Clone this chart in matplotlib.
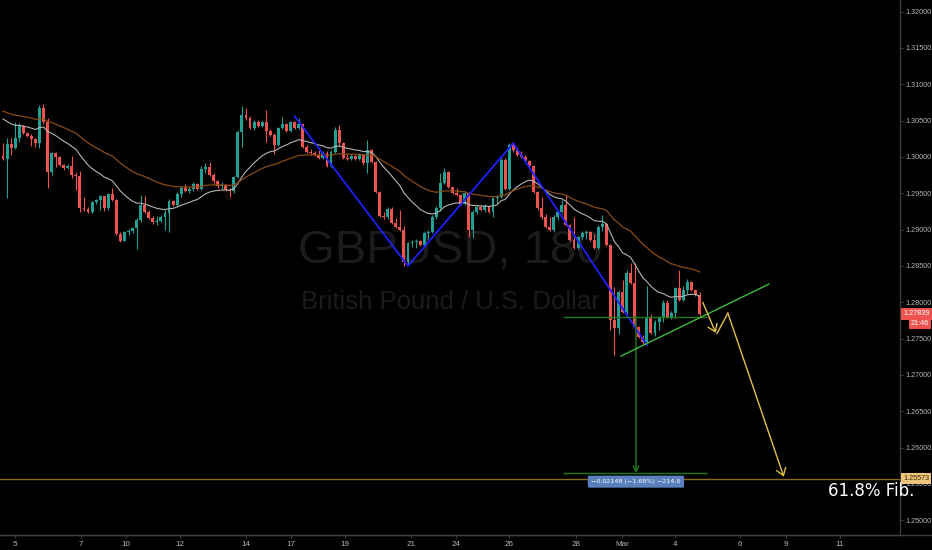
import numpy as np
import matplotlib.pyplot as plt

# GBPUSD 3h candles (open of each bar = previous close)
first_open = 1.3001
closes = [1.2997, 1.3018, 1.3012, 1.3026, 1.3043, 1.3033, 1.3029, 1.3025, 1.3019, 1.3067,
          1.3048, 1.2979, 1.3006, 1.3000, 1.2989, 1.2985, 1.2988, 1.2975, 1.2974, 1.2930,
          1.2928, 1.2924, 1.2938, 1.2941, 1.2946, 1.2930, 1.2949, 1.2941, 1.2894, 1.2884,
          1.2897, 1.2898, 1.2902, 1.2913, 1.2934, 1.2924, 1.2916, 1.2911, 1.2912, 1.2917,
          1.2923, 1.2939, 1.2934, 1.2949, 1.2957, 1.2953, 1.2956, 1.2963, 1.2956, 1.2983,
          1.2986, 1.2975, 1.2967, 1.2960, 1.2961, 1.2955, 1.2953, 1.2972, 1.3034, 1.3058,
          1.3054, 1.3040, 1.3048, 1.3043, 1.3048, 1.3036, 1.3030, 1.3017, 1.3040, 1.3045,
          1.3036, 1.3048, 1.3040, 1.3045, 1.3014, 1.3007, 1.3006, 1.3003, 1.2999, 1.3006,
          1.2988, 1.3007, 1.3037, 1.3019, 1.2999, 1.2997, 1.3001, 1.2997, 1.3003, 1.2992,
          1.3010, 1.2993, 1.2952, 1.2919, 1.2917, 1.2928, 1.2909, 1.2904, 1.2900, 1.2856,
          1.2882, 1.2883, 1.2884, 1.2879, 1.2895, 1.2897, 1.2917, 1.2930, 1.2964, 1.2979,
          1.2959, 1.2950, 1.2948, 1.2935, 1.2950, 1.2900, 1.2924, 1.2931, 1.2927, 1.2933,
          1.2924, 1.2944, 1.2945, 1.2996, 1.2956, 1.3017, 1.3010, 1.3003, 1.3000, 1.2995,
          1.2988, 1.2952, 1.2930, 1.2917, 1.2904, 1.2900, 1.2917, 1.2924, 1.2934, 1.2906,
          1.2886, 1.2875, 1.2890, 1.2895, 1.2897, 1.2886, 1.2875, 1.2904, 1.2908, 1.2879,
          1.2776, 1.2765, 1.2814, 1.2787, 1.2840, 1.2827, 1.2766, 1.2752, 1.2746, 1.2780,
          1.2758, 1.2773, 1.2778, 1.2799, 1.2780, 1.2785, 1.2820, 1.2803, 1.2817, 1.2828,
          1.2817, 1.2810, 1.2784]
highs = [1.3019, 1.3026, 1.3026, 1.3048, 1.3047, 1.3044, 1.3034, 1.3032, 1.3026, 1.3072,
         1.3073, 1.3054, 1.3007, 1.3007, 1.3001, 1.2990, 1.2990, 1.3001, 1.2979, 1.2981,
         1.2945, 1.2931, 1.2939, 1.2942, 1.2948, 1.2946, 1.2950, 1.2957, 1.2942, 1.2897,
         1.2898, 1.2901, 1.2904, 1.2916, 1.2948, 1.2946, 1.2927, 1.2919, 1.2919, 1.2920,
         1.2927, 1.2942, 1.2941, 1.2952, 1.2960, 1.2963, 1.2959, 1.2966, 1.2964, 1.2988,
         1.2992, 1.2993, 1.2978, 1.2968, 1.2966, 1.2963, 1.2957, 1.2974, 1.3037, 1.3070,
         1.3067, 1.3056, 1.3051, 1.3051, 1.3050, 1.3065, 1.3039, 1.3033, 1.3041, 1.3055,
         1.3047, 1.3050, 1.3050, 1.3054, 1.3045, 1.3017, 1.3011, 1.3008, 1.3010, 1.3008,
         1.3008, 1.3010, 1.3041, 1.3044, 1.3020, 1.3004, 1.3004, 1.3003, 1.3005, 1.3003,
         1.3023, 1.3011, 1.2995, 1.2953, 1.2924, 1.2931, 1.2931, 1.2916, 1.2927, 1.2905,
         1.2883, 1.2886, 1.2887, 1.2886, 1.2897, 1.2900, 1.2920, 1.2933, 1.2978, 1.2985,
         1.2981, 1.2959, 1.2957, 1.2949, 1.2952, 1.2952, 1.2927, 1.2934, 1.2934, 1.2935,
         1.2934, 1.2945, 1.2948, 1.2999, 1.2999, 1.3019, 1.3021, 1.3012, 1.3008, 1.3003,
         1.2996, 1.2989, 1.2953, 1.2945, 1.2922, 1.2917, 1.2920, 1.2927, 1.2941, 1.2948,
         1.2908, 1.2917, 1.2891, 1.2898, 1.2900, 1.2898, 1.2894, 1.2906, 1.2920, 1.2909,
         1.2880, 1.2821, 1.2817, 1.2831, 1.2845, 1.2854, 1.2854, 1.2768, 1.2755, 1.2823,
         1.2784, 1.2776, 1.2781, 1.2803, 1.2803, 1.2788, 1.2821, 1.2845, 1.2823, 1.2832,
         1.2829, 1.2818, 1.2814]
lows = [1.2996, 1.2944, 1.3003, 1.3011, 1.3021, 1.3032, 1.3028, 1.3015, 1.3014, 1.3012,
        1.3045, 1.2957, 1.2975, 1.2986, 1.2988, 1.2982, 1.2984, 1.2971, 1.2955, 1.2924,
        1.2926, 1.2923, 1.2923, 1.2935, 1.2927, 1.2926, 1.2927, 1.2939, 1.2893, 1.2883,
        1.2884, 1.2893, 1.2895, 1.2873, 1.2911, 1.2923, 1.2915, 1.2908, 1.2906, 1.2911,
        1.2900, 1.2897, 1.2933, 1.2933, 1.2945, 1.2952, 1.2950, 1.2953, 1.2955, 1.2955,
        1.2978, 1.2974, 1.2964, 1.2957, 1.2956, 1.2953, 1.2945, 1.2950, 1.2971, 1.3014,
        1.3051, 1.3039, 1.3037, 1.3041, 1.3041, 1.3021, 1.3029, 1.3004, 1.3015, 1.3039,
        1.3034, 1.3034, 1.3039, 1.3039, 1.3012, 1.3006, 1.3003, 1.3001, 1.2997, 1.2997,
        1.2986, 1.2986, 1.3006, 1.3015, 1.2997, 1.2996, 1.2996, 1.2996, 1.2996, 1.2989,
        1.2978, 1.2992, 1.2950, 1.2917, 1.2915, 1.2915, 1.2908, 1.2902, 1.2898, 1.2850,
        1.2852, 1.2876, 1.2875, 1.2878, 1.2878, 1.2887, 1.2895, 1.2915, 1.2926, 1.2963,
        1.2957, 1.2949, 1.2946, 1.2934, 1.2934, 1.2890, 1.2889, 1.2922, 1.2926, 1.2924,
        1.2923, 1.2917, 1.2937, 1.2944, 1.2955, 1.2955, 1.3007, 1.3001, 1.2999, 1.2993,
        1.2986, 1.2950, 1.2927, 1.2915, 1.2902, 1.2898, 1.2897, 1.2913, 1.2923, 1.2905,
        1.2884, 1.2873, 1.2873, 1.2887, 1.2887, 1.2884, 1.2873, 1.2873, 1.2898, 1.2878,
        1.2762, 1.2728, 1.2757, 1.2785, 1.2784, 1.2825, 1.2765, 1.2751, 1.2741, 1.2744,
        1.2757, 1.2754, 1.2762, 1.2773, 1.2778, 1.2777, 1.2778, 1.2802, 1.2802, 1.2811,
        1.2816, 1.2809, 1.2781]

# moving averages: starting values at the left edge + periods
ma_fast_start, ma_fast_len = 1.3058, 20
ma_slow_start, ma_slow_len = 1.3066, 45

# date axis
day_labels = ["5", "7", "10", "12", "14", "17", "19", "21", "24", "26", "28", "Mar", "4", "6", "9", "11"]
day_bars = [3.0, 19.3, 30.4, 43.7, 60.0, 71.1, 84.4, 100.7, 111.9, 124.9, 141.5, 152.8, 165.9, 182.0, 193.3, 206.7]
price_ticks = [1.25, 1.255, 1.26, 1.265, 1.27, 1.275, 1.28, 1.285, 1.29, 1.295,
               1.30, 1.305, 1.31, 1.315, 1.32]

# drawings on the chart
zigzag_bars = [72, 100, 126, 159]
zigzag_prices = [1.3056, 1.2850, 1.3019, 1.2741]
trend_bars = [152.6, 189.1]
trend_prices = [1.2726, 1.2825]
measure_top, measure_change = 1.2780, -0.02148
measure_bars = [138.3, 173.8]
measure_mid_bar = 156.3
measure_text = "\u22120.02148 (\u22121.68%) \u2212214.8"
fib_price = 1.25573
arrow1_bars, arrow1_prices = [172.8, 176.0], [1.2800, 1.2758]
arrow2_bars, arrow2_prices = [176.3, 179.0, 192.8], [1.2757, 1.2785, 1.2560]
last_price_label, countdown = "1.27839", "21:46"

UP, DOWN = "#22a094", "#ef5350"
AXIS_FONT = "Liberation Sans"

fig = plt.figure(figsize=(9.32, 5.5), dpi=100, facecolor="black")
ax = fig.add_axes([0, 15 / 550, 900 / 932, 535 / 550])
ax.set_facecolor("black")

# watermark
ax.text(0.5, 1 - 251 / 535, "GBPUSD, 180", transform=ax.transAxes, ha="center", va="center",
        fontsize=34, color="#1b1b1b", family="Liberation Sans", zorder=0)
ax.text(0.5, 1 - 302 / 535, "British Pound / U.S. Dollar", transform=ax.transAxes, ha="center",
        va="center", fontsize=18.5, color="#1b1b1b", family="Liberation Sans", zorder=0)

# candles
c = np.array(closes)
o = np.concatenate([[first_open], c[:-1]])
x = np.arange(len(c))
col = np.where(c >= o, UP, DOWN)
ax.vlines(x, lows, highs, colors=col, linewidth=0.8, zorder=2)
ax.bar(x, np.maximum(np.abs(c - o), 0.00009), bottom=np.minimum(o, c), width=0.72,
       color=col, linewidth=0, zorder=3)

# moving averages
def ema(values, start, n):
    a = 2 / (n + 1)
    out, e = [], start
    for v in values:
        e = e + a * (v - e)
        out.append(e)
    return out

ax.plot(x, ema(c, ma_fast_start, ma_fast_len), color="#b4b4b4", lw=0.8, zorder=4)
ax.plot(x, ema(c, ma_slow_start, ma_slow_len), color="#8a4a14", lw=0.9, zorder=4)

# zigzag
ax.plot(zigzag_bars, zigzag_prices, color="#1f1fff", lw=1.3, zorder=5)

# price range tool
measure_bottom = measure_top + measure_change
ax.hlines([measure_top, measure_bottom], measure_bars[0], measure_bars[1], color="#1d7a1d", lw=1.0, zorder=5)
ax.annotate("", xy=(measure_mid_bar, measure_bottom), xytext=(measure_mid_bar, measure_top),
            arrowprops=dict(arrowstyle="->", color="#1d7a1d", lw=1.0, shrinkA=0, shrinkB=0), zorder=5)
ax.text(measure_mid_bar, measure_bottom - 0.0012, measure_text, ha="center", va="center",
        fontsize=4.6, color="white",
        bbox=dict(boxstyle="round,pad=0.55,rounding_size=0.25", fc="#5a80be", ec="none"), zorder=6)

# trendline
ax.plot(trend_bars, trend_prices, color="#3dbb3d", lw=1.0, zorder=5)

# fib level
ax.axhline(fib_price, color="#8a6a1c", lw=1.0, zorder=1)
ax.text(871 / 900, fib_price - 0.00165, "61.8% Fib.", transform=ax.get_yaxis_transform(),
        ha="center", va="center", fontsize=12, color="white")

# projection arrows
ax.annotate("", xy=(arrow1_bars[1], arrow1_prices[1]), xytext=(arrow1_bars[0], arrow1_prices[0]),
            arrowprops=dict(arrowstyle="->,head_length=0.5,head_width=0.35", color="#e2c04a", lw=1.0,
                            shrinkA=0, shrinkB=0), zorder=6)
ax.plot(arrow2_bars[:2], arrow2_prices[:2], color="#e2c04a", lw=1.0, zorder=6)
ax.annotate("", xy=(arrow2_bars[2], arrow2_prices[2]), xytext=(arrow2_bars[1], arrow2_prices[1]),
            arrowprops=dict(arrowstyle="->,head_length=0.5,head_width=0.35", color="#e2c04a", lw=1.0,
                            shrinkA=0, shrinkB=0), zorder=6)

# axes
ax.set_xlim(-0.74, 221.5)
ax.set_ylim(1.24798, 1.3216)
for s in ["top", "left"]:
    ax.spines[s].set_visible(False)
for s in ["right", "bottom"]:
    ax.spines[s].set_color("#3c3c3c")
    ax.spines[s].set_linewidth(1.0)
ax.yaxis.tick_right()
ax.set_yticks(price_ticks)
ax.set_yticklabels([f"{p:.5f}" for p in price_ticks], family=AXIS_FONT)
ax.set_xticks(day_bars)
ax.set_xticklabels(day_labels, family=AXIS_FONT)
ax.tick_params(axis="y", colors="#3c3c3c", labelcolor="#b2b5be", labelsize=5.2, length=2.5, pad=1.2)
ax.tick_params(axis="x", colors="#3c3c3c", labelcolor="#b2b5be", labelsize=5.8, length=2.5, pad=2)
fig.add_artist(plt.Line2D([0, 1], [15 / 550, 15 / 550], color="#3c3c3c", lw=1.0))

# right-axis price tags
ytr = ax.get_yaxis_transform()
tag = dict(transform=ytr, va="center", fontsize=5.2, family=AXIS_FONT, clip_on=False, zorder=7)
ax.text(1.0035, c[-1], last_price_label, ha="left", color="white",
        bbox=dict(boxstyle="square,pad=0.3", fc="#ef5350", ec="none"), **tag)
ax.text(1.0325, c[-1] - 0.00135, countdown, ha="right", color="white",
        bbox=dict(boxstyle="square,pad=0.3", fc="#ef5350", ec="none"), **tag)
ax.text(1.0035, fib_price, f"{fib_price:.5f}", ha="left", color="#3a2a00",
        bbox=dict(boxstyle="square,pad=0.3", fc="#f0c47a", ec="none"), **tag)

fig.savefig("out.png", dpi=100, facecolor="black")
